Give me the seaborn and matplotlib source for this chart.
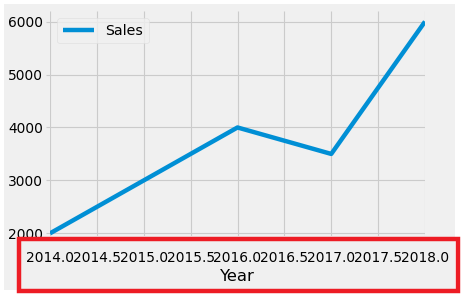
import matplotlib
matplotlib.use("Agg")
import matplotlib.pyplot as plt
import seaborn as sns
import pandas as pd
from matplotlib.patches import Rectangle

years = [2014, 2015, 2016, 2017, 2018]
sales = [2000, 3000, 4000, 3500, 6000]
xtick_pos = [2014.0, 2014.5, 2015.0, 2015.5, 2016.0, 2016.5, 2017.0, 2017.5, 2018.0]
xtick_labels = ["2014.0", "2014.5", "2015.0", "2015.5", "2016.0", "2016.5", "2017.0", "2017.5", "2018.0"]
ytick_pos = [2000, 3000, 4000, 5000, 6000]

plt.style.use("fivethirtyeight")
df = pd.DataFrame({"Year": years, "Sales": sales})

W, H = 461, 295
DPI = 100
fig = plt.figure(figsize=(W / DPI, H / DPI), dpi=DPI, facecolor="white")

def fx(px):
    return px / W

def fy(py):
    return 1 - py / H

# gray background panel
fig.patches.append(Rectangle((fx(4), fy(290)), fx(455) - fx(4), fy(4) - fy(290),
                             transform=fig.transFigure, facecolor="#f0f0f0",
                             edgecolor="none", zorder=-10))

ax = fig.add_axes([fx(50), fy(236), fx(425) - fx(50), fy(11) - fy(236)])
ax.set_facecolor("#f0f0f0")
sns.lineplot(data=df, x="Year", y="Sales", ax=ax, label="Sales",
             color="#008fd5", linewidth=3.2)
ax.set_xlim(2014, 2018)
ax.set_ylim(1950, 6200)
ax.set_xticks(xtick_pos)
ax.set_xticklabels(xtick_labels)
ax.set_yticks(ytick_pos)
ax.set_ylabel("")
ax.set_xlabel("Year", fontsize=11.8, labelpad=3.5)
ax.tick_params(axis="x", labelsize=9.9, length=0, pad=10.5)
ax.tick_params(axis="y", labelsize=9.9, length=3, width=0.8, color="#cbcbcb", pad=2)
ax.grid(True, color="#cbcbcb", linewidth=0.8)
for s in ax.spines.values():
    s.set_visible(False)
leg = ax.legend(loc="upper left", fontsize=10.2, frameon=True, handlelength=2.2)
leg.get_frame().set_facecolor("#f0f0f0")
leg.get_frame().set_edgecolor("#dddddd")

# red highlight box around x axis
fig.patches.append(Rectangle((fx(19), fy(291)), fx(458) - fx(19), fy(239) - fy(291),
                             transform=fig.transFigure, facecolor="none",
                             edgecolor="#ed1c24", linewidth=3.2, zorder=5))

fig.savefig("out.png", dpi=DPI, facecolor="white")
